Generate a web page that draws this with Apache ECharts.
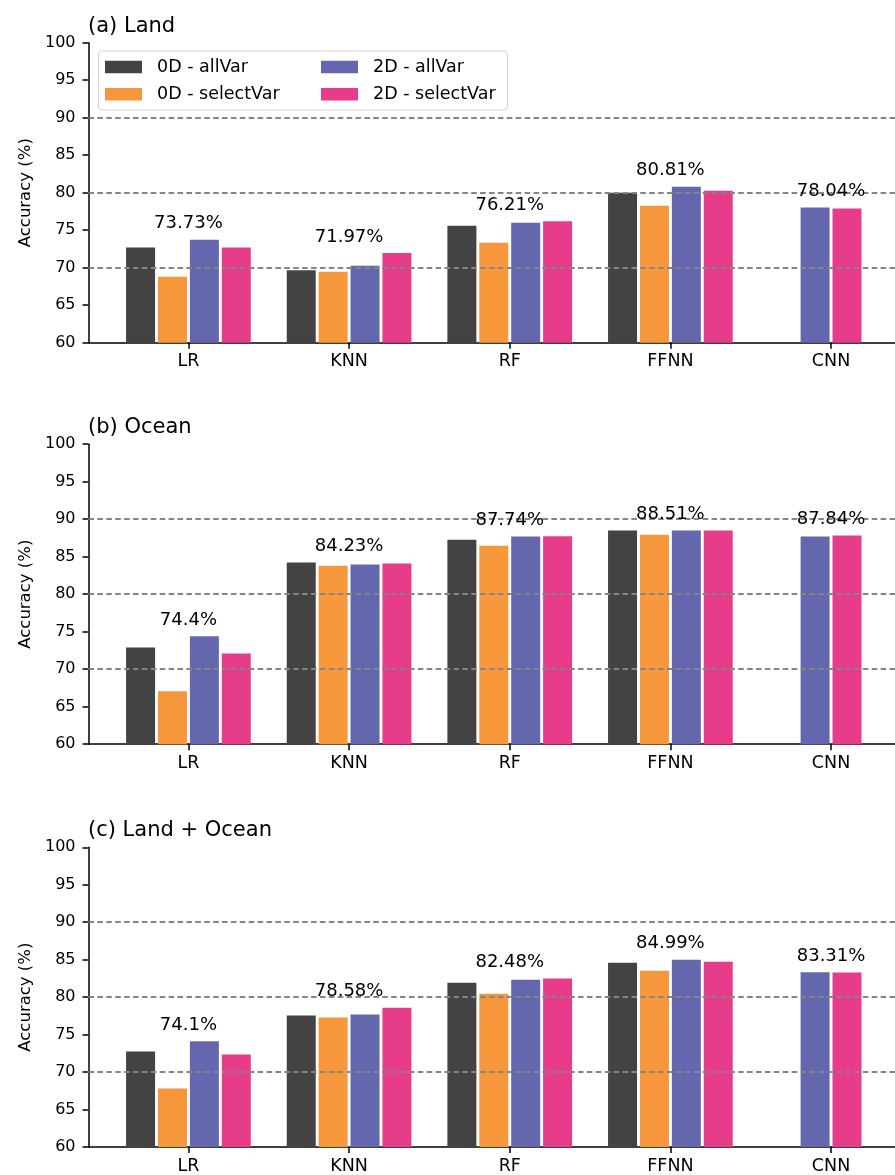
<!DOCTYPE html>
<html>
<head>
<meta charset="utf-8">
<script src="https://cdn.jsdelivr.net/npm/echarts@6/dist/echarts.min.js"></script>
<style>html,body{margin:0;padding:0;background:#fff}#c{width:895px;height:1175px}</style>
</head>
<body>
<div id="c"></div>
<script>
// ---- data ----
const categories = ['LR', 'KNN', 'RF', 'FFNN', 'CNN'];
const seriesNames = ['0D - allVar', '0D - selectVar', '2D - allVar', '2D - selectVar'];
const panelTitles = ['(a) Land', '(b) Ocean', '(c) Land + Ocean'];
const refLines = [70, 80, 90];

// (a) Land
const land_0D_allVar    = [72.68, 69.65, 75.60, 80.00, null];
const land_0D_selectVar = [68.80, 69.47, 73.33, 78.27, null];
const land_2D_allVar    = [73.73, 70.27, 76.00, 80.81, 78.04];
const land_2D_selectVar = [72.68, 71.97, 76.21, 80.27, 77.88];
// (b) Ocean
const ocean_0D_allVar    = [72.90, 84.23, 87.27, 88.48, null];
const ocean_0D_selectVar = [67.05, 83.81, 86.47, 87.94, null];
const ocean_2D_allVar    = [74.40, 83.95, 87.70, 88.51, 87.70];
const ocean_2D_selectVar = [72.10, 84.08, 87.74, 88.49, 87.84];
// (c) Land + Ocean
const both_0D_allVar    = [72.74, 77.54, 81.93, 84.60, null];
const both_0D_selectVar = [67.81, 77.27, 80.47, 83.53, null];
const both_2D_allVar    = [74.10, 77.67, 82.33, 84.99, 83.31];
const both_2D_selectVar = [72.34, 78.58, 82.48, 84.73, 83.28];

const panels = [
  [land_0D_allVar, land_0D_selectVar, land_2D_allVar, land_2D_selectVar],
  [ocean_0D_allVar, ocean_0D_selectVar, ocean_2D_allVar, ocean_2D_selectVar],
  [both_0D_allVar, both_0D_selectVar, both_2D_allVar, both_2D_selectVar]
];

// ---- styling ----
const FONT = 'DejaVu Sans';
const colors = ['#434343', '#F5973A', '#6567AE', '#E73C8A'];
const gridTops = [42.7, 444.2, 847.3];
const catIdx = categories.map((c, i) => i);
const stacks = ['s0', 's1', 's2', 's3'];

const chart = echarts.init(document.getElementById('c'), null, {renderer: 'canvas'});

const grids = [], xAxes = [], yAxes = [], series = [], titles = [];
panels.forEach((arrs, p) => {
  grids.push({left: 88.5, right: 0, top: gridTops[p], height: 300});
  titles.push({
    text: panelTitles[p], left: 88, top: gridTops[p] - 28.5, padding: 0,
    textStyle: {fontFamily: FONT, fontSize: 21, fontWeight: 'normal', color: '#000', lineHeight: 24}
  });
  xAxes.push({
    gridIndex: p, type: 'value', min: -0.622, max: 4.398,
    splitLine: {show: false},
    axisLine: {show: true, onZero: false, lineStyle: {color: '#000', width: 1.5}},
    axisTick: {show: true, length: 6, customValues: catIdx, lineStyle: {color: '#000', width: 1.5}},
    axisLabel: {customValues: catIdx, formatter: v => categories[Math.round(v)], margin: 10,
      fontFamily: FONT, fontSize: 17.5, color: '#000'}
  });
  yAxes.push({
    gridIndex: p, type: 'value', min: 60, max: 100, interval: 5,
    name: 'Accuracy (%)', nameLocation: 'middle', nameGap: 54,
    nameTextStyle: {fontFamily: FONT, fontSize: 16.5, color: '#000'},
    splitLine: {show: false},
    axisLine: {show: true, onZero: false, lineStyle: {color: '#000', width: 1.5}},
    axisTick: {show: true, length: 6, lineStyle: {color: '#000', width: 1.5}},
    axisLabel: {margin: 13, fontFamily: FONT, fontSize: 16, color: '#000'}
  });
  const lastIdx = categories.length - 1;
  arrs.forEach((arr, s) => {
    const full = arr.map((v, j) => (v == null || j === lastIdx) ? null : [j, v]).filter(Boolean);
    series.push({
      type: 'bar', name: seriesNames[s], xAxisIndex: p, yAxisIndex: p,
      stack: stacks[s] + '_' + p,
      barWidth: 29, barGap: '10%',
      itemStyle: {color: colors[s]},
      data: full
    });
  });
  // last group (CNN): only the present series, centred around the tick
  const present = arrs.map((a, s) => s).filter(s => arrs[s][lastIdx] != null);
  const startSlot = Math.round((arrs.length - present.length) / 2);
  present.forEach((s, k) => {
    series.push({
      type: 'bar', name: seriesNames[s], xAxisIndex: p, yAxisIndex: p,
      stack: stacks[startSlot + k] + '_' + p,
      barWidth: 29, barGap: '10%',
      itemStyle: {color: colors[s]},
      data: [[lastIdx, arrs[s][lastIdx]]]
    });
  });
  const maxes = categories.map((c, j) => {
    const vals = arrs.map(a => a[j]).filter(v => v != null);
    return [j, Math.max.apply(null, vals)];
  });
  series.push({
    type: 'scatter', name: 'best', xAxisIndex: p, yAxisIndex: p, z: 5,
    symbolSize: 0, itemStyle: {color: '#000'}, silent: true,
    label: {show: true, position: 'top', distance: 7, fontFamily: FONT, fontSize: 18, color: '#000',
      textBorderWidth: 0, opacity: 1,
      formatter: prm => Number(prm.value[1].toFixed(2)) + '%'},
    data: maxes,
    markLine: {
      silent: true, symbol: 'none', label: {show: false},
      lineStyle: {type: [5.6, 3.3], color: '#858585', width: 2},
      data: refLines.map(v => ({yAxis: v}))
    }
  });
});

const legendCommon = {
  orient: 'vertical', top: 57.5, padding: 0, itemWidth: 37, itemHeight: 12.5, itemGap: 8.3,
  icon: 'rect', selectedMode: false,
  textStyle: {fontFamily: FONT, fontSize: 17.5, color: '#000', lineHeight: 19, padding: [0, 0, 0, 10]}
};

chart.setOption({
  animation: false,
  backgroundColor: '#fff',
  title: titles,
  grid: grids,
  xAxis: xAxes,
  yAxis: yAxes,
  legend: [
    Object.assign({}, legendCommon, {left: 105, data: [seriesNames[0], seriesNames[1]]}),
    Object.assign({}, legendCommon, {left: 321, data: [seriesNames[2], seriesNames[3]]})
  ],
  graphic: [{
    type: 'rect', z: 3, silent: true,
    shape: {x: 98.5, y: 51, width: 409, height: 59, r: 4},
    style: {fill: 'rgba(255,255,255,0.8)', stroke: '#d4d4d4', lineWidth: 1.2}
  }],
  series: series
});
</script>
</body>
</html>
